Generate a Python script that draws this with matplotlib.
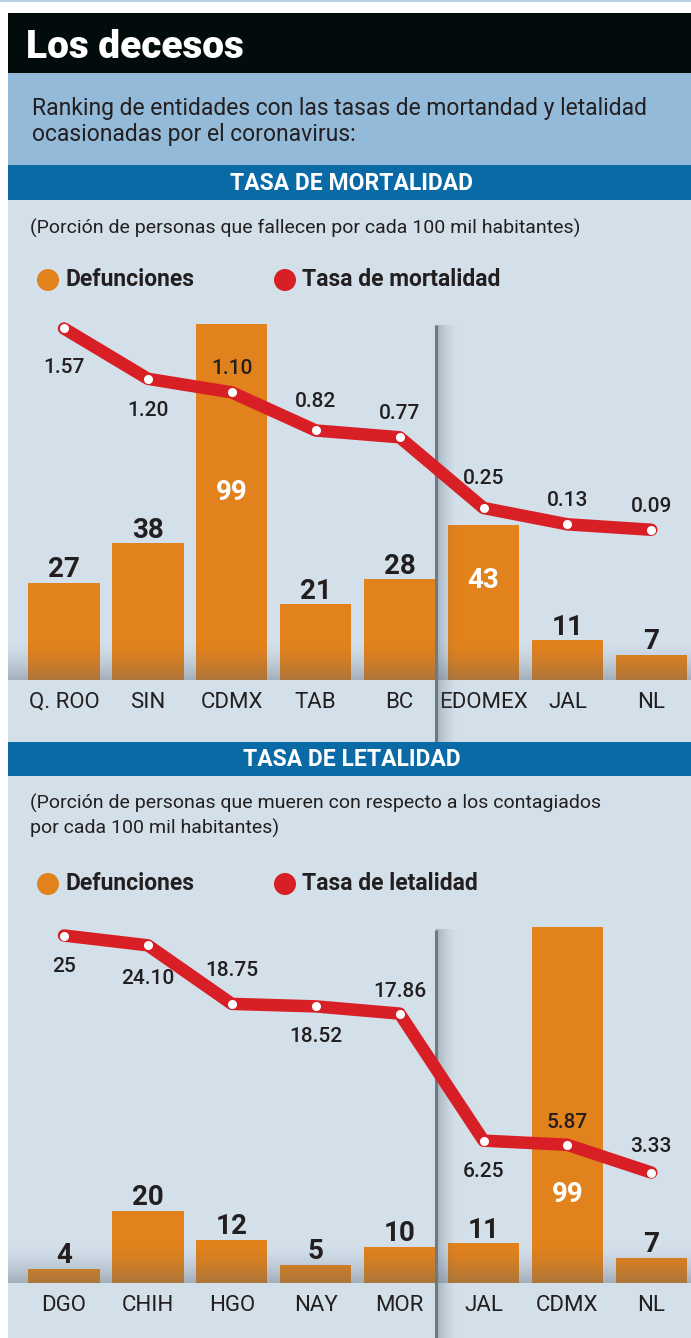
import matplotlib
matplotlib.use("Agg")
import matplotlib.pyplot as plt
from matplotlib.patches import Rectangle, Circle
import numpy as np

W, H = 691, 1338

# data
mort_states = ["Q. ROO", "SIN", "CDMX", "TAB", "BC", "EDOMEX", "JAL", "NL"]
mort_deaths = [27, 38, 99, 21, 28, 43, 11, 7]
mort_rate = [1.57, 1.20, 1.10, 0.82, 0.77, 0.25, 0.13, 0.09]
mort_rate_lbl = ["1.57", "1.20", "1.10", "0.82", "0.77", "0.25", "0.13", "0.09"]

let_states = ["DGO", "CHIH", "HGO", "NAY", "MOR", "JAL", "CDMX", "NL"]
let_deaths = [4, 20, 12, 5, 10, 11, 99, 7]
let_rate = [25, 24.10, 18.75, 18.52, 17.86, 6.25, 5.87, 3.33]
let_rate_lbl = ["25", "24.10", "18.75", "18.52", "17.86", "6.25", "5.87", "3.33"]

ORANGE = "#e2821c"
RED = "#d81f26"
DARK = "#231f20"
PANEL = "#d3e0ea"
BLUE = "#0a6aa6"
LIGHTBLUE = "#93bad8"

plt.rcParams['font.family'] = ['Roboto', 'DejaVu Sans']

fig = plt.figure(figsize=(W / 100, H / 100), dpi=100)
bg = fig.add_axes([0, 0, 1, 1])
bg.set_xlim(0, W)
bg.set_ylim(H, 0)
bg.axis("off")

def px_axes(x0, y0, x1, y1):
    a = fig.add_axes([x0 / W, 1 - y1 / H, (x1 - x0) / W, (y1 - y0) / H])
    a.patch.set_visible(False)
    return a

def rect(x0, y0, x1, y1, color):
    bg.add_patch(Rectangle((x0, y0), x1 - x0, y1 - y0, color=color, lw=0))

# background blocks
rect(0, 0, W, 2, "#b9d2e6")
rect(8, 13, W, 73, "#030c0c")
rect(8, 73, W, 165, LIGHTBLUE)
rect(8, 165, W, 200, BLUE)
rect(8, 200, W, 742, PANEL)
rect(8, 742, W, 776, BLUE)
rect(8, 776, W, H, PANEL)

bg.text(26, 47, "Los decesos", color="white", fontsize=28, fontweight="black",
        va="center", ha="left")
bg.text(32, 108, "Ranking de entidades con las tasas de mortandad y letalidad",
        color=DARK, fontsize=16.5, va="center")
bg.text(32, 135, "ocasionadas por el coronavirus:", color=DARK, fontsize=16.5, va="center")
bg.text(352, 184, "TASA DE MORTALIDAD", color="white", fontsize=16.5, fontweight="bold",
        ha="center", va="center")
bg.text(352, 760, "TASA DE LETALIDAD", color="white", fontsize=16.5, fontweight="bold",
        ha="center", va="center")
bg.text(30, 228, "(Porción de personas que fallecen por cada 100 mil habitantes)",
        color=DARK, fontsize=14, va="center")
bg.text(30, 803, "(Porción de personas que mueren con respecto a los contagiados",
        color=DARK, fontsize=14, va="center")
bg.text(30, 828, "por cada 100 mil habitantes)", color=DARK, fontsize=14, va="center")

def legend(y, label2):
    bg.add_patch(Circle((48, y), 11, color=ORANGE, lw=0))
    bg.text(66, y, "Defunciones", color=DARK, fontsize=16.5, fontweight="bold", va="center")
    bg.add_patch(Circle((285, y), 11, color=RED, lw=0))
    bg.text(302, y, label2, color=DARK, fontsize=16.5, fontweight="bold", va="center")

legend(280, "Tasa de mortalidad")
legend(884, "Tasa de letalidad")

STEP = 83.9
X0 = 64

def chart(y_top, y_bottom, y_base, y_zero, rate_px, sep_top,
          states, deaths, rate, rate_lbl, rate_off, white_lbl):
    ax = px_axes(8, y_top, W, y_bottom)
    xl = (-(X0 - 8) / STEP, 7 + (W - (X0 + 7 * STEP)) / STEP)
    yl = (-(y_bottom - y_base) / 3.6, (y_base - y_top) / 3.6)
    x = np.arange(len(states))
    ax.bar(x, deaths, width=0.85, color=ORANGE, zorder=2)
    for i, d in enumerate(deaths):
        if i in white_lbl:
            ax.text(i, white_lbl[i], str(d), color="white", fontsize=20,
                    fontweight="bold", ha="center", va="center", zorder=5)
        else:
            ax.annotate(str(d), (i, d), xytext=(0, 4), textcoords="offset points",
                        ha="center", va="baseline", fontsize=20, fontweight="bold",
                        color=DARK, zorder=5)
        ax.text(i, -6.2, states[i], ha="center", va="center", fontsize=16, color=DARK)
    # baseline shading
    cols = np.zeros((50, 1, 4))
    cols[..., :3] = [0.33, 0.38, 0.42]
    cols[..., 3] = np.linspace(0, 1, 50).reshape(-1, 1) ** 1.5 * 0.38
    ax.imshow(cols, extent=(xl[0], xl[1], 0, 40 / 3.6), origin="upper",
              aspect="auto", zorder=3, interpolation="bilinear")
    # separator with shadow
    xs = (436 - X0) / STEP
    sh = np.zeros((1, 40, 4))
    sh[..., :3] = [0.35, 0.40, 0.45]
    sh[..., 3] = np.linspace(0.55, 0, 40) ** 1.6
    ax.imshow(sh, extent=(xs, xs + 22 / STEP, yl[0], (y_base - sep_top) / 3.6),
              aspect="auto", zorder=3, interpolation="bilinear")
    ax.plot([xs, xs], [yl[0], (y_base - sep_top) / 3.6], color="#6d7a84", lw=2.2,
            zorder=3, solid_capstyle="butt")
    ax.set_xlim(*xl)
    ax.set_ylim(*yl)
    ax.axis("off")

    ax2 = ax.twinx()
    ax2.patch.set_visible(False)
    ax2.plot(x, rate, color=RED, lw=9, solid_joinstyle="round",
             solid_capstyle="round", zorder=4)
    ax2.plot(x, rate, "o", ms=5.5, mfc="white", mec="white", zorder=5)
    for i, (r, t) in enumerate(zip(rate, rate_lbl)):
        ax2.annotate(t, (i, r), xytext=(0, rate_off[i]), textcoords="offset points",
                     ha="center", va="center", fontsize=15, fontweight="medium",
                     color=DARK, zorder=6)
    ax2.set_ylim(-(y_bottom - y_zero) / rate_px, (y_zero - y_top) / rate_px)
    ax2.set_xlim(*xl)
    ax2.axis("off")

chart(300, 742, 680, 542, 136, 325, mort_states, mort_deaths, mort_rate, mort_rate_lbl,
      [-28, -23, 17, 21, 17, 21, 17, 17], {2: 52, 5: 27.5})
chart(900, H, 1283, 1209, 10.94, 930, let_states, let_deaths, let_rate, let_rate_lbl,
      [-22, -24, 24, -22, 16, -22, 16, 19], {6: 24.5})

fig.savefig("out.png", dpi=100)
